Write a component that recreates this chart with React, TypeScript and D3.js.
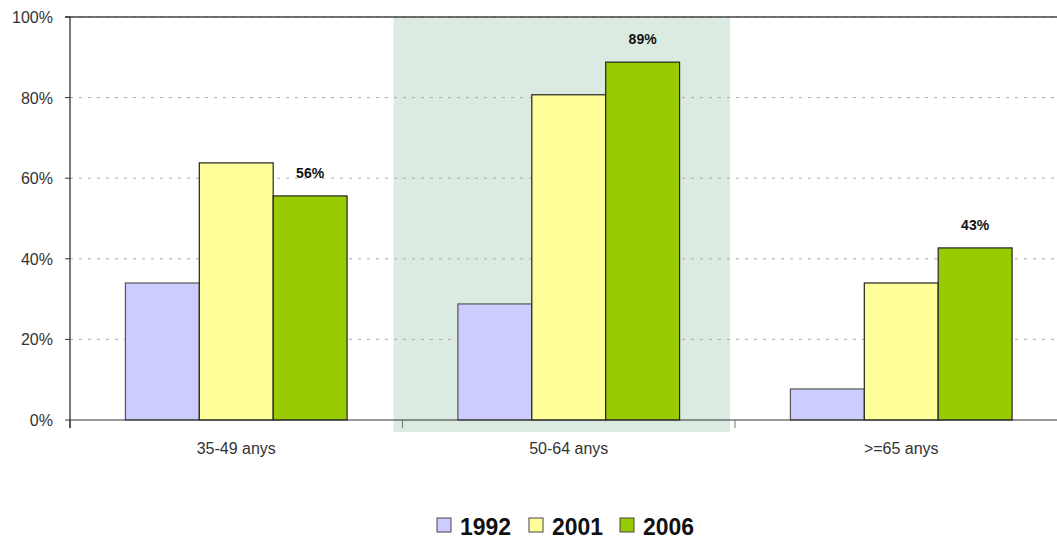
import React from "react";
import * as d3 from "d3";

const categories = ["35-49 anys", "50-64 anys", ">=65 anys"];
const seriesNames = ["1992", "2001", "2006"];
const values1992 = [34, 28.8, 7.7];
const values2001 = [63.8, 80.7, 34];
const values2006 = [55.6, 88.8, 42.7];
const yTicks = [0, 20, 40, 60, 80, 100];
const colors = ["#ccccff", "#ffff99", "#99cc00"];
const strokes = ["#555555", "#222222", "#222222"];
const highlighted = "50-64 anys";

export default function App() {
  const W = 1057, H = 540;
  const left = 70, right = 1067.5, top = 17, bottom = 420;
  const series = [values1992, values2001, values2006];

  const x = d3.scaleBand<string>().domain(categories).range([left, right]).paddingInner(0).paddingOuter(0);
  const inner = d3.scaleBand<string>().domain(seriesNames).range([0, x.bandwidth()]).paddingInner(0).paddingOuter(0.75);
  const y = d3.scaleLinear().domain([0, 100]).range([bottom, top]);
  const font = "Arial, 'Liberation Sans', sans-serif";
  const hx = x(highlighted)!;

  return (
    <svg width={W} height={H} style={{ position: "absolute", left: 0, top: 0 }}>
      <rect x={0} y={0} width={W} height={H} fill="#fff" />
      <rect x={hx - 9} y={top} width={x.bandwidth() + 4} height={bottom - top + 12} fill="#dcebe2" />
      {yTicks.filter(t => t > 0).map(t => (
        <line key={t} x1={left} x2={W} y1={y(t)} y2={y(t)} stroke="#aaa" strokeDasharray="3,6" strokeWidth={1} />
      ))}
      <line x1={65} x2={W} y1={y(100)} y2={y(100)} stroke="#444" strokeWidth={1.3} />
      {categories.map((c, ci) =>
        series.map((vals, si) => {
          const bx = x(c)! + inner(seriesNames[si])!;
          return (
            <rect key={c + si} x={bx} y={y(vals[ci])} width={inner.bandwidth()} height={bottom - y(vals[ci])}
              fill={colors[si]} stroke={strokes[si]} strokeWidth={1.2} />
          );
        })
      )}
      {categories.map((c, ci) => {
        const bx = x(c)! + inner("2006")! + inner.bandwidth() / 2;
        return (
          <text key={"l" + c} x={bx} y={y(values2006[ci]) - 18} textAnchor="middle" fontFamily={font}
            fontWeight="bold" fontSize={14} fill="#111">{Math.round(values2006[ci])}%</text>
        );
      })}
      <line x1={left} x2={left} y1={top} y2={bottom + 8} stroke="#222" strokeWidth={1.2} />
      <line x1={left} x2={W} y1={bottom} y2={bottom} stroke="#333" strokeWidth={1.2} />
      {yTicks.map(t => (
        <g key={"yt" + t}>
          <line x1={65} x2={left} y1={y(t)} y2={y(t)} stroke="#333" strokeWidth={1} />
          <text x={53} y={y(t) + 6} textAnchor="end" fontFamily={font} fontSize={16} fill="#333">{t}%</text>
        </g>
      ))}
      {categories.map((c, i) => (
        <g key={"xt" + c}>
          <line x1={x(c)! + x.bandwidth()} x2={x(c)! + x.bandwidth()} y1={bottom} y2={bottom + 8} stroke="#777" strokeWidth={1} />
          <text x={x(c)! + x.bandwidth() / 2} y={bottom + 34} textAnchor="middle" fontFamily={font} fontSize={16} fill="#333">{c}</text>
        </g>
      ))}
      <line x1={left} x2={left} y1={bottom} y2={bottom + 8} stroke="#333" strokeWidth={1} />
      {seriesNames.map((s, i) => {
        const lx = [437, 529, 620][i];
        return (
          <g key={"lg" + s}>
            <rect x={lx} y={518} width={14} height={14} fill={colors[i]} stroke="#444" strokeWidth={1} />
            <text x={lx + 23} y={535} fontFamily={font} textLength={51} lengthAdjust="spacingAndGlyphs"
              fontWeight="bold" fontSize={24} fill="#111">{s}</text>
          </g>
        );
      })}
    </svg>
  );
}
